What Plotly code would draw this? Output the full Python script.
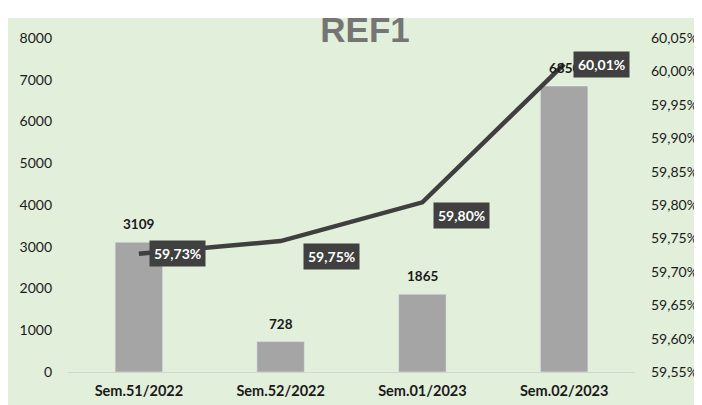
import plotly.graph_objects as go

categories = ["Sem.51/2022", "Sem.52/2022", "Sem.01/2023", "Sem.02/2023"]
bar_values = [3109, 728, 1865, 6850]
line_values = [59.727, 59.746, 59.804, 60.011]
left_ticks = [0, 1000, 2000, 3000, 4000, 5000, 6000, 7000, 8000]
right_ticks = [59.55, 59.60, 59.65, 59.70, 59.75, 59.80, 59.85, 59.90, 59.95, 60.00, 60.05]

# label placement offsets (pixels) for the percentage labels
label_dx = [10, 22, 11, 9]
label_dy = [0, -15, -13, 0]

FONT = "Lato, Carlito, Roboto, sans-serif"


def pct(v):
    return f"{v:.2f}".replace(".", ",") + "%"


fig = go.Figure()
fig.add_trace(go.Bar(
    x=categories, y=bar_values, marker_color="#A5A5A5", width=0.335,
    yaxis="y", showlegend=False,
))
fig.add_trace(go.Scatter(
    x=categories, y=line_values, mode="lines",
    line=dict(color="#3F3F3F", width=4.5), yaxis="y2", showlegend=False,
))

for c, v in zip(categories, bar_values):
    fig.add_annotation(
        x=c, y=v, xref="x", yref="y", text="<b>" + str(v) + "</b>",
        showarrow=False, yanchor="bottom", yshift=8,
        font=dict(family=FONT, size=13.5, color="#1a1a1a"),
    )

for c, v, dx, dy in zip(categories, line_values, label_dx, label_dy):
    fig.add_annotation(
        x=c, y=v, xref="x", yref="y2",
        text="<b>" + pct(v) + "</b>",
        showarrow=False, xanchor="left", xshift=dx, yshift=dy,
        bgcolor="#404040", font=dict(family=FONT, size=14, color="white"),
        borderpad=4,
    )

# figure sits 8px inside the page (body margin), so work in shifted coords
W, H = 694, 397
L, R, T, B = 60, 67, 30, 33
PW, PH = W - L - R, H - T - B

fig.add_shape(type="rect", xref="paper", yref="paper",
              x0=(0 - L) / PW, x1=(687 - L) / PW, y0=-(B + 5) / PH, y1=(H - 10 - B) / PH,
              fillcolor="#E2EFDA", line_width=0, layer="below")

fig.update_layout(
    width=W, height=H,
    margin=dict(l=L, r=R, t=T, b=B),
    paper_bgcolor="white", plot_bgcolor="rgba(0,0,0,0)",
    separators=",.",
    title=dict(text="<b>REF1</b>", x=357 / W, xanchor="center", y=1 - 22 / H, yanchor="middle",
               font=dict(family="Liberation Sans, Arial, sans-serif", size=35, color="#757575")),
    xaxis=dict(showgrid=False, showline=True, linecolor="#D0D8CC", linewidth=1,
               tickfont=dict(family=FONT, size=14.5, color="#1a1a1a", weight="bold"),
               ticks="", ticklabelstandoff=6, automargin=False),
    yaxis=dict(range=[0, 8000], tickvals=left_ticks, showgrid=False, zeroline=False,
               tickfont=dict(family=FONT, size=14, color="#1a1a1a"), ticklabelstandoff=15,
               automargin=False),
    yaxis2=dict(range=[59.55, 60.05], tickvals=right_ticks, ticktext=[pct(t) for t in right_ticks],
                overlaying="y", side="right", showgrid=False, zeroline=False,
                tickfont=dict(family=FONT, size=14, color="#1a1a1a"), ticklabelstandoff=15,
                automargin=False),
)

fig.write_html("out.html")
